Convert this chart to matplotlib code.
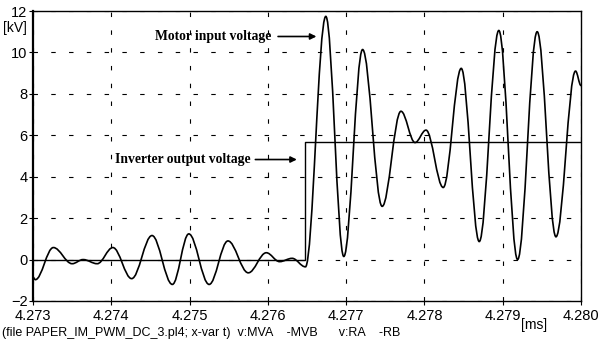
import matplotlib.pyplot as plt
import numpy as np
from matplotlib.path import Path
from matplotlib.patches import PathPatch

# Motor input voltage: turning points of the waveform [ms], [kV]
t_motor = [4.27300, 4.27303, 4.27326, 4.27350, 4.27364, 4.27382, 4.27402,
           4.27426, 4.27452, 4.27478, 4.27499, 4.27525, 4.27549, 4.27575,
           4.27598, 4.27615, 4.27631, 4.27648, 4.27674, 4.27697, 4.27721,
           4.27746, 4.27770, 4.27788, 4.27802, 4.27824, 4.27847, 4.27870,
           4.27895, 4.27919, 4.27944, 4.27968, 4.27993, 4.28000]
v_motor = [-0.85, -0.97, 0.58, -0.20, 0.00, -0.20, 0.58,
           -0.92, 1.16, -1.20, 1.24, -1.20, 0.90, -0.64,
           0.33, -0.10, 0.06, -0.35, 11.74, 0.15, 10.14,
           2.57, 7.16, 5.65, 6.25, 3.48, 9.23, 0.87,
           11.06, 0.00, 11.00, 1.10, 9.10, 8.40]

# Inverter output voltage (step)
t_inv = [4.2730, 4.27648, 4.2800]
v_inv = [0.0, 5.7, 5.7]

x_ticks = [4.273, 4.274, 4.275, 4.276, 4.277, 4.278, 4.279, 4.280]
y_ticks = [-2, 0, 2, 4, 6, 8, 10, 12]

plt.rcParams['font.family'] = ['Liberation Sans', 'DejaVu Sans']

fig = plt.figure(figsize=(5.98, 3.42), dpi=100)
ax = fig.add_axes([0.0552, 0.1199, 0.9164, 0.8479])

# smooth curve through the turning points using cubic Bezier segments
a = 0.363
verts = [(t_motor[0], v_motor[0])]
codes = [Path.MOVETO]
for i in range(len(t_motor) - 1):
    t0, t1 = t_motor[i], t_motor[i + 1]
    v0, v1 = v_motor[i], v_motor[i + 1]
    dt = t1 - t0
    verts += [(t0 + a * dt, v0), (t1 - a * dt, v1), (t1, v1)]
    codes += [Path.CURVE4] * 3
ax.add_patch(PathPatch(Path(verts, codes), facecolor='none',
                       edgecolor='black', linewidth=1.2, zorder=3))

ax.plot(t_inv, v_inv, drawstyle='steps-post', color='black', linewidth=1.0, zorder=3)

ax.set_xlim(4.273, 4.280)
ax.set_ylim(-2, 12)
ax.set_xticks(x_ticks)
ax.set_xticklabels(['%.3f' % x for x in x_ticks])
ax.set_yticks(y_ticks)
ax.tick_params(direction='out', length=3, width=0.8, labelsize=10.5, pad=1)
ax.tick_params(axis='x', pad=3)

ax.grid(True, color='black', linestyle=(0, (4, 12)), linewidth=0.8, zorder=1)
for s in ax.spines.values():
    s.set_linewidth(1.0)
ax.spines['left'].set_linewidth(1.6)

fig.text(0.005, 0.905, '[kV]', fontsize=10)
fig.text(0.872, 0.037, '[ms]', fontsize=10)
fig.text(0.003, 0.018,
         '(file PAPER_IM_PWM_DC_3.pl4; x-var t)  v:MVA    -MVB      v:RA    -RB',
         fontsize=9)

bold = dict(fontsize=9.8, fontweight='bold', family=['Liberation Serif'])
ax.annotate('', xy=(4.27662, 10.77), xytext=(4.27613, 10.77),
            arrowprops=dict(arrowstyle='-|>', color='black', lw=1.2,
                            mutation_scale=9, shrinkA=0, shrinkB=0))
ax.text(4.27456, 10.77, 'Motor input voltage', va='center', **bold)
ax.annotate('', xy=(4.27637, 4.83), xytext=(4.27584, 4.83),
            arrowprops=dict(arrowstyle='-|>', color='black', lw=1.2,
                            mutation_scale=9, shrinkA=0, shrinkB=0))
ax.text(4.27405, 4.83, 'Inverter output voltage', va='center', **bold)

fig.savefig('out.png', dpi=100)
